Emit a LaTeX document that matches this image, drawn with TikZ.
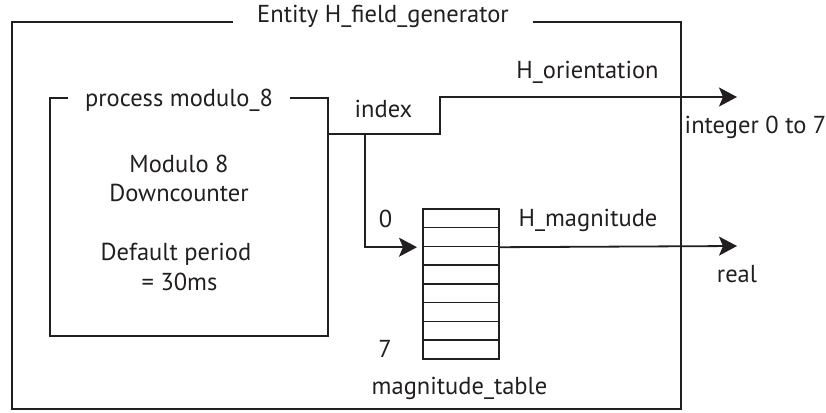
\documentclass[tikz,border=0pt]{standalone}
\usepackage{fontspec}
\setmainfont{PT Sans}
\usetikzlibrary{arrows.meta}
\definecolor{ink}{HTML}{231F20}
\begin{document}
\begin{tikzpicture}[x=1pt,y=-1pt,
  line/.style={draw=ink, line width=1.8pt},
  boxn/.style={line, rectangle, inner sep=0pt},
  txt/.style={text=ink, inner sep=0pt, anchor=base, font=\fontsize{24.5}{29}\selectfont},
  ttl/.style={txt, fill=white, inner xsep=20pt},
  arr/.style={line, -{Stealth[length=18pt,width=19pt,inset=4pt]}},
  cell/.style={draw=ink, line width=1.7pt, minimum width=76pt, minimum height=18.75pt, inner sep=0pt, anchor=north west}]
\useasboundingbox (0,0) rectangle (826,412);
% outer entity box
\node[boxn, minimum width=669pt, minimum height=387pt] (outer) at (346.5,215.5) {};
\node[ttl, inner xsep=24pt] (etitle) at (383,23) {Entity H\_field\_generator};
% process box
\node[boxn, minimum width=278pt, minimum height=238pt] (proc) at (189,217) {};
\node[ttl, inner xsep=17pt] (ptitle) at (179,106) {process modulo\_8};
\node[txt] (d1) at (179,172) {Modulo 8};
\node[txt] (d2) at (179,201) {Downcounter};
\node[txt] (d3) at (176,260) {Default period};
\node[txt] (d4) at (179.5,290) {= 30ms};
% table
\foreach \i in {0,...,7} {
  \node[cell] (c\i) at (422,{208+18.75*\i}) {};
}
% coordinates
\coordinate (idx) at (328,134);
\coordinate (br) at (365,134);
\coordinate (up) at (440,134);
\coordinate (oend) at (737,97);
\coordinate (mend) at (737,246);
% connectors
\draw[arr] (idx) -- (up) |- (oend);
\draw[arr, shorten >=5pt] (br) |- (c1.south west);
\draw[arr] (c1.south east) -- (mend);
% labels
\node[txt] (lidx) at (383.5,117) {index};
\node[txt] (lori) at (587.5,78) {H\_orientation};
\node[txt] (lint) at (755.5,133) {integer 0 to 7};
\node[txt] (lmag) at (588,226) {H\_magnitude};
\node[txt] (lreal) at (737,282) {real};
\node[txt] (l0) at (385.5,227) {0};
\node[txt] (l7) at (385,357) {7};
\node[txt] (ltab) at (459.5,394) {magnitude\_table};
\end{tikzpicture}
\end{document}
